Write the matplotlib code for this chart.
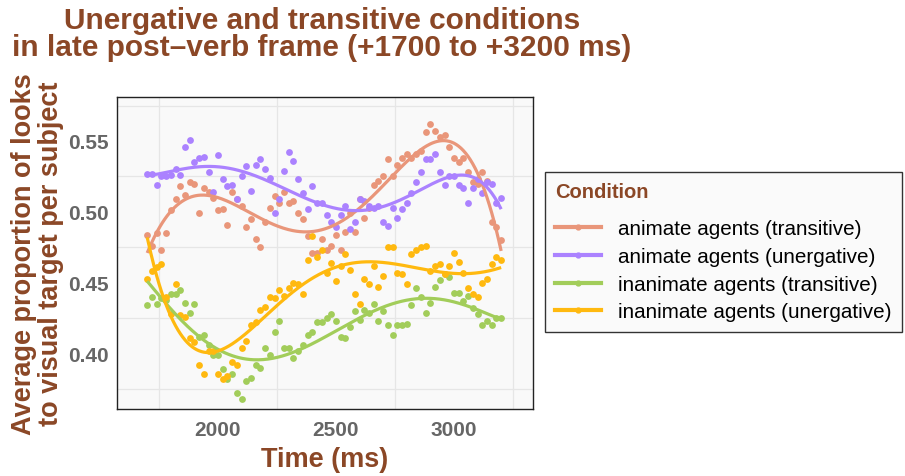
import numpy as np
import matplotlib
matplotlib.use("Agg")
import matplotlib.pyplot as plt
from matplotlib.lines import Line2D
from matplotlib.ticker import FixedLocator

plt.rcParams['font.family'] = ['Liberation Sans', 'DejaVu Sans']

# ---------------- data ----------------
time_ms = list(range(1700, 3201, 20))

animate_transitive = [
    0.484, 0.476, 0.485, 0.473, 0.485, 0.501, 0.509, 0.518, 0.512, 0.521,
    0.520, 0.499, 0.517, 0.514, 0.510, 0.501, 0.502, 0.491, 0.514, 0.509,
    0.504, 0.489, 0.495, 0.481, 0.475, 0.493, 0.503, 0.511, 0.506, 0.514,
    0.506, 0.508, 0.499, 0.495, 0.483, 0.471, 0.471, 0.481, 0.473, 0.476,
    0.484, 0.473, 0.486, 0.499, 0.486, 0.509, 0.496, 0.503, 0.519, 0.522,
    0.525, 0.537, 0.525, 0.533, 0.538, 0.541, 0.538, 0.541, 0.543, 0.556,
    0.562, 0.557, 0.553, 0.554, 0.546, 0.538, 0.535, 0.538, 0.528, 0.521,
    0.520, 0.528, 0.522, 0.493, 0.489, 0.480]

animate_unergative = [
    0.527, 0.527, 0.519, 0.525, 0.525, 0.526, 0.530, 0.526, 0.546, 0.551,
    0.535, 0.538, 0.539, 0.528, 0.514, 0.540, 0.523, 0.518, 0.519, 0.509,
    0.525, 0.532, 0.515, 0.533, 0.537, 0.530, 0.524, 0.499, 0.509, 0.529,
    0.542, 0.536, 0.523, 0.513, 0.502, 0.518, 0.506, 0.506, 0.498, 0.493,
    0.489, 0.498, 0.504, 0.488, 0.493, 0.509, 0.508, 0.504, 0.503, 0.504,
    0.493, 0.490, 0.503, 0.496, 0.502, 0.506, 0.513, 0.521, 0.528, 0.537,
    0.537, 0.541, 0.528, 0.519, 0.525, 0.525, 0.519, 0.517, 0.506, 0.517,
    0.523, 0.513, 0.521, 0.520, 0.506, 0.510]

inanimate_transitive = [
    0.434, 0.440, 0.435, 0.439, 0.438, 0.442, 0.442, 0.445, 0.436, 0.429,
    0.435, 0.412, 0.413, 0.406, 0.399, 0.399, 0.389, 0.382, 0.386, 0.372,
    0.368, 0.381, 0.383, 0.392, 0.390, 0.404, 0.399, 0.415, 0.423, 0.404,
    0.404, 0.397, 0.402, 0.406, 0.413, 0.415, 0.422, 0.422, 0.425, 0.428,
    0.423, 0.412, 0.411, 0.419, 0.430, 0.424, 0.431, 0.429, 0.435, 0.423,
    0.430, 0.420, 0.413, 0.420, 0.420, 0.421, 0.434, 0.446, 0.440, 0.429,
    0.436, 0.447, 0.452, 0.456, 0.454, 0.443, 0.443, 0.437, 0.441, 0.432,
    0.428, 0.420, 0.423, 0.420, 0.425, 0.425]

inanimate_unergative = [
    0.453, 0.458, 0.461, 0.463, 0.440, 0.428, 0.449, 0.427, 0.426, 0.411,
    0.408, 0.392, 0.386, 0.402, 0.402, 0.386, 0.382, 0.384, 0.394, 0.392,
    0.404, 0.409, 0.420, 0.422, 0.431, 0.433, 0.440, 0.439, 0.445, 0.441,
    0.446, 0.450, 0.449, 0.442, 0.466, 0.483, 0.468, 0.473, 0.457, 0.464,
    0.451, 0.462, 0.470, 0.459, 0.442, 0.435, 0.453, 0.449, 0.462, 0.447,
    0.455, 0.475, 0.475, 0.457, 0.456, 0.449, 0.470, 0.473, 0.475, 0.476,
    0.458, 0.462, 0.463, 0.456, 0.462, 0.471, 0.465, 0.457, 0.446, 0.442,
    0.440, 0.450, 0.453, 0.463, 0.468, 0.466]

conditions = ["animate agents (transitive)", "animate agents (unergative)",
              "inanimate agents (transitive)", "inanimate agents (unergative)"]
series = [animate_transitive, animate_unergative,
          inanimate_transitive, inanimate_unergative]
colors = ["#E9967A", "#AB82FF", "#A2CD5A", "#FFB90F"]

x_ticks = [2000, 2500, 3000]
y_ticks = [0.40, 0.45, 0.50, 0.55]
y_tick_labels = ["0.40", "0.45", "0.50", "0.55"]

brown = "#8B4726"

# ---------------- figure ----------------
fig = plt.figure(figsize=(9.05, 4.77), dpi=100)
ax = fig.add_axes([117/905, 1-410/477, (533-117)/905, (410-98)/477])
ax.set_facecolor("#F9F9F9")

t = np.array(time_ms, dtype=float)
tt = np.linspace(t.min(), t.max(), 300)
tc = (t - 2450) / 750
ttc = (tt - 2450) / 750
for vals, c in zip(series, colors):
    v = np.array(vals)
    ax.scatter(t, v, s=24, color=c, linewidths=0, zorder=3)
    coef = np.polyfit(tc, v, 5)
    ax.plot(tt, np.polyval(coef, ttc), color=c, lw=2.3, zorder=4,
            solid_capstyle='butt')

ax.set_xlim(1572, 3335)
ax.set_ylim(0.361, 0.581)
ax.xaxis.set_major_locator(FixedLocator(x_ticks))
ax.yaxis.set_major_locator(FixedLocator(y_ticks))
ax.set_yticklabels(y_tick_labels)
ax.xaxis.set_minor_locator(FixedLocator([1750, 2250, 2750, 3250]))
ax.yaxis.set_minor_locator(FixedLocator([0.375, 0.425, 0.475, 0.525, 0.575]))
ax.grid(False, which='major')
ax.grid(True, which='minor', color="#E6E6E6", lw=0.9)
ax.set_axisbelow(True)
ax.tick_params(which='both', length=0)
ax.tick_params(axis='x', pad=8, labelsize=15, labelcolor="#666666")
ax.tick_params(axis='y', pad=6, labelsize=15, labelcolor="#666666")
for lab in ax.get_xticklabels() + ax.get_yticklabels():
    lab.set_fontweight('bold')
for sp in ax.spines.values():
    sp.set_color("#222222")
    sp.set_linewidth(1.0)

ax.set_xlabel("Time (ms)", fontsize=19.5, fontweight='bold', color=brown, labelpad=5)
ax.set_ylabel("Average proportion of looks\nto visual target per subject",
              fontsize=19.5, fontweight='bold', color=brown, labelpad=3,
              linespacing=1.05)

fig.text(322/905, 1-7/477,
         "Unergative and transitive conditions\nin late post\u2013verb frame (+1700 to +3200 ms)",
         ha='center', va='top', fontsize=21.5, fontweight='bold', color=brown,
         linespacing=0.97)

handles = [Line2D([0], [0], color=c, lw=3, marker='o', markersize=3.5)
           for c in colors]
leg = fig.legend(handles, conditions, loc='upper left',
                 bbox_to_anchor=(545/905, 1-173/477),
                 fontsize=14.9, title="Condition",
                 title_fontproperties={'weight': 'bold', 'size': 14.5},
                 frameon=True, fancybox=False, edgecolor="#333333",
                 facecolor="#FAFAFA", framealpha=1,
                 handlelength=2.2, handletextpad=0.85, labelspacing=0.42,
                 borderpad=0.5, borderaxespad=0)
leg.get_title().set_color(brown)
leg._legend_box.align = "left"
leg._legend_box.sep = 13
leg.get_frame().set_linewidth(1.0)

fig.savefig("out.png", dpi=100)
